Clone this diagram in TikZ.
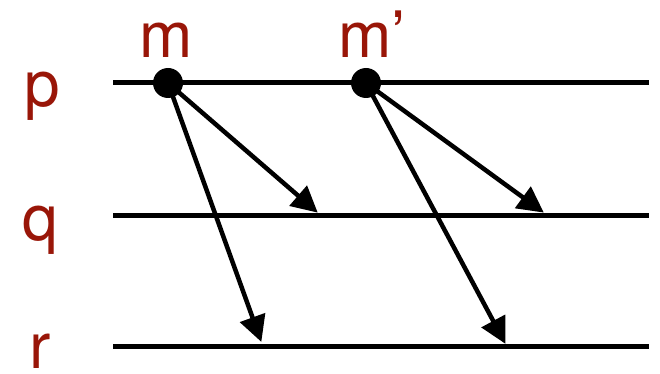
\documentclass[tikz,border=0pt]{standalone}
\usepackage{fontspec}
\setmainfont{TeX Gyre Heros}
\usetikzlibrary{arrows.meta}
\definecolor{lblred}{RGB}{153,22,8}
\begin{document}
\begin{tikzpicture}[x=1pt,y=-1pt,
  procline/.style={line width=5pt},
  msgarrow/.style={line width=4.5pt,-{Triangle[length=26pt,width=26pt]},shorten >=-1pt},
  dotnode/.style={circle,fill=black,inner sep=0pt,minimum size=30pt},
  lbl/.style={text=lblred,font=\fontsize{64}{64}\selectfont,inner sep=0pt,anchor=base}]
\useasboundingbox (0,0) rectangle (660,374);
% process lines
\coordinate (p0) at (113,83);  \coordinate (p1) at (649,83);
\coordinate (q0) at (113,215); \coordinate (q1) at (649,215);
\coordinate (r0) at (113,346); \coordinate (r1) at (649,346);
\draw[procline] (p0) -- (p1);
\draw[procline] (q0) -- (q1);
\draw[procline] (r0) -- (r1);
% labels
\node[lbl] (lp) at (42,107) {p};
\node[lbl] (lq) at (40,240) {q};
\node[lbl] (lr) at (40,368) {r};
\node[lbl] (lm) at (166,58) {m};
\node[lbl] (lm2) at (372,58) {m’};
% dots
\node[dotnode] (m1) at (168,83) {};
\node[dotnode] (m2) at (366,83) {};
% arrow tips
\coordinate (t1) at (317,212);
\coordinate (t2) at (261,341);
\coordinate (t3) at (543,212);
\coordinate (t4) at (505,343);
\draw[msgarrow] (m1.center) -- (t1);
\draw[msgarrow] (m1.center) -- (t2);
\draw[msgarrow] (m2.center) -- (t3);
\draw[msgarrow] (m2.center) -- (t4);
\end{tikzpicture}
\end{document}
